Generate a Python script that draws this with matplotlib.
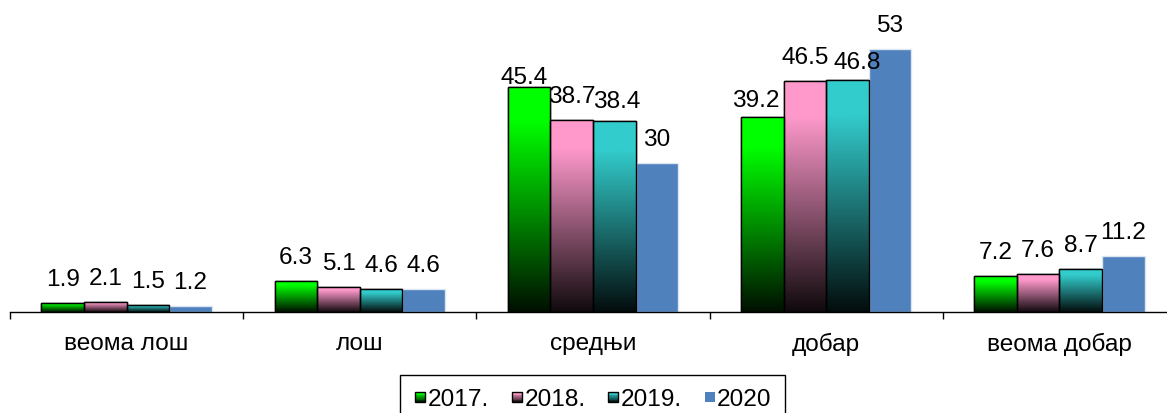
import numpy as np
import matplotlib
matplotlib.use("Agg")
import matplotlib.pyplot as plt
from matplotlib.colors import to_rgb
from matplotlib.patches import Rectangle
from matplotlib.legend_handler import HandlerBase

categories = ["веома лош", "лош", "средњи", "добар", "веома добар"]
series_names = ["2017.", "2018.", "2019.", "2020"]
v2017 = [1.9, 6.3, 45.4, 39.2, 7.2]
v2018 = [2.1, 5.1, 38.7, 46.5, 7.6]
v2019 = [1.5, 4.6, 38.4, 46.8, 8.7]
v2020 = [1.2, 4.6, 30, 53, 11.2]
values = [v2017, v2018, v2019, v2020]

colors = ["#00FF00", "#FF99CC", "#33CCCC", "#4F81BD"]
gradient = [True, True, True, False]
edgecolors = ["black", "black", "black", "#DCE6F2"]

# label placement (pixels): default gap between bar top and text baseline,
# plus a few manual nudges (series index, category index) -> (dx, gap)
default_gap = 17
label_nudge = {(0, 2): (-5, 3), (2, 2): (2, 13), (0, 3): (-7, 10), (2, 3): (10, 11)}

plt.rcParams["font.family"] = ["Liberation Sans", "DejaVu Sans"]
FS = 17.6

W, H = 1167, 413
fig = plt.figure(figsize=(W / 100, H / 100), dpi=100)
ax = fig.add_axes([10 / W, (H - 312) / H, 1166 / W, 312 / H])

x = np.arange(len(categories))
bw = 0.1825
offsets = (np.arange(4) - 1.5) * bw
ymax = 312 / 4.962


def grad_img(color, n=256):
    c = np.array(to_rgb(color))
    t = np.linspace(0, 1, n)[:, None]
    f = np.clip(0.06 + 0.94 * t / 0.85, 0, 1)
    img = f * c[None, :]
    return img[:, None, :]


px = 72 / 100  # points per pixel
for i, (vals, col) in enumerate(zip(values, colors)):
    bars = ax.bar(x + offsets[i], vals, width=bw, color=col,
                  edgecolor=edgecolors[i], linewidth=1.0, zorder=2)
    for j, (b, v) in enumerate(zip(bars, vals)):
        if gradient[i]:
            x0, y0 = b.get_x(), b.get_y()
            im = ax.imshow(grad_img(col), extent=(x0, x0 + b.get_width(), y0, y0 + b.get_height()),
                           origin="lower", aspect="auto", zorder=2.5, interpolation="bilinear")
            im.set_clip_path(b)
            ax.add_patch(Rectangle((x0, y0), b.get_width(), b.get_height(), fill=False,
                                   edgecolor="black", linewidth=1.0, zorder=3))
        dx, gap = label_nudge.get((i, j), (0, default_gap))
        ax.annotate(f"{v:g}", (b.get_x() + b.get_width() / 2, v), xytext=(dx * px, gap * px),
                    textcoords="offset points", ha="center", va="baseline", fontsize=FS, zorder=4)

ax.set_xlim(-0.5, len(categories) - 0.5)
ax.set_ylim(0, ymax)

for s in ["top", "right", "left"]:
    ax.spines[s].set_visible(False)
ax.spines["bottom"].set_linewidth(1.0)
ax.set_yticks([])
ax.set_xticks(x)
ax.set_xticklabels(categories, fontsize=FS)
ax.tick_params(axis="x", which="major", length=0, pad=15)
ax.set_xticks(np.arange(len(categories) + 1) - 0.5, minor=True)
ax.tick_params(axis="x", which="minor", length=5, width=1.0, direction="out")


class GradHandler(HandlerBase):
    def __init__(self, color, grad, sq):
        super().__init__()
        self.color = color
        self.grad = grad
        self.sq = sq

    def create_artists(self, legend, orig_handle, xdescent, ydescent, width, height, fontsize, trans):
        arts = []
        c = np.array(to_rgb(self.color))
        s = self.sq
        x0 = -xdescent + width - s
        y0 = -ydescent + (height - s) / 2
        n = 12
        for k in range(n):
            t = (k + 0.5) / n
            f = min(1.0, 0.06 + 0.94 * t / 0.85) if self.grad else 1.0
            arts.append(Rectangle((x0, y0 + s * k / n), s, s / n + 0.01,
                                  facecolor=tuple(c * f), edgecolor="none", transform=trans))
        if self.grad:
            arts.append(Rectangle((x0, y0), s, s, fill=False,
                                  edgecolor="black", linewidth=1.0, transform=trans))
        return arts


sq_pt = 10 * px
handles = [Rectangle((0, 0), 1, 1) for _ in series_names]
hmap = {h: GradHandler(colors[i], gradient[i], sq_pt) for i, h in enumerate(handles)}
leg = fig.legend(handles, series_names, handler_map=hmap, ncol=4, fontsize=FS,
                 loc="upper left", bbox_to_anchor=(400 / W, 1 - 375 / H),
                 frameon=True, fancybox=False, edgecolor="black", framealpha=1,
                 handlelength=(12 * px) / FS, handleheight=0.7, handletextpad=0.1,
                 columnspacing=0.85, borderpad=0.55, borderaxespad=0)
leg.get_frame().set_linewidth(1.0)

fig.savefig("out.png", dpi=100)
